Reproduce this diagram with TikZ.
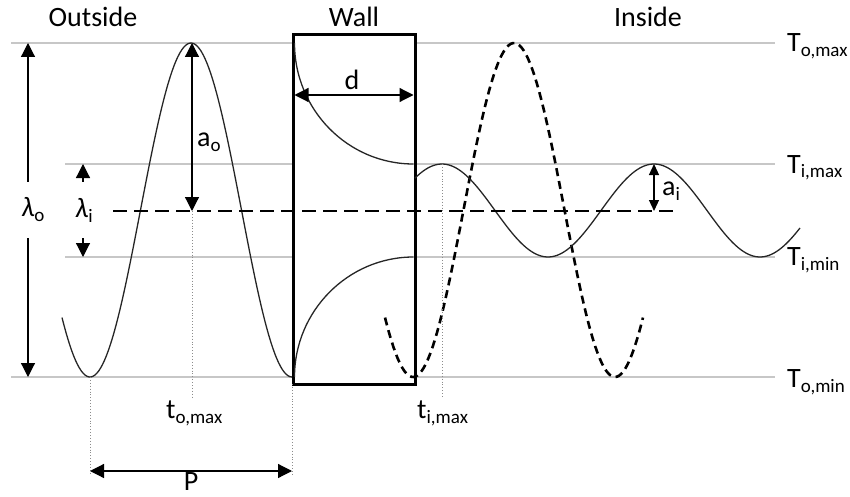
\documentclass[tikz,border=0pt]{standalone}
\usepackage{fontspec}
\setmainfont{Carlito}
\usetikzlibrary{arrows.meta}

% lowered small index, as in T_{o,max}
\newcommand{\lowidx}[1]{\raisebox{-5pt}{\fontsize{19}{20}\selectfont #1}}

\tikzset{
  level/.style={draw=black!22, line width=1.5pt},
  guide/.style={draw=black!45, dotted, line width=0.9pt},
  wave/.style={draw=black!85, line width=1.3pt},
  dim/.style={line width=1.2pt, {Triangle[length=14pt,width=14pt]}-{Triangle[length=14pt,width=14pt]}},
  dimsmall/.style={line width=1.2pt, {Triangle[length=11pt,width=10pt]}-{Triangle[length=11pt,width=10pt]}},
  tip/.style={line width=1.2pt, -{Triangle[length=14pt,width=14pt]}},
  lbl/.style={inner sep=0pt}
}

\begin{document}
\begin{tikzpicture}[x=1pt, y=-1pt, font=\fontsize{28}{30}\selectfont]
	\useasboundingbox (0,0) rectangle (850,497);
	% temperature levels
	\coordinate (oLmax) at (11,43);  \coordinate (oRmax) at (775,43);
	\coordinate (iLmax) at (65,164); \coordinate (iRmax) at (775,164);
	\coordinate (iLmin) at (65,257); \coordinate (iRmin) at (775,257);
	\coordinate (oLmin) at (11,377); \coordinate (oRmin) at (775,377);
	\draw [level] (oLmax) -- (oRmax);
	\draw [level] (iLmax) -- (iRmax);
	\draw [level] (iLmin) -- (iRmin);
	\draw [level] (oLmin) -- (oRmin);
	\begin{scope}[every node/.style={lbl, anchor=base west}]
	\node (tomax) at (787,52) {T\lowidx{o,max}};
	\node (timax) at (787,173) {T\lowidx{i,max}};
	\node (timin) at (787,265) {T\lowidx{i,min}};
	\node (tomin) at (787,387) {T\lowidx{o,min}};
	\end{scope}
	% headings
	\node [lbl, anchor=base] (outside) at (93,27) {Outside};
	\node [lbl, anchor=base] (walltitle) at (354,27) {Wall};
	\node [lbl, anchor=base] (inside) at (648,27) {Inside};
	% wall
	\draw [line width=3pt, fill=white] (293,35) rectangle (415,384);
	\draw [wave] (294.5,43) .. controls (294.5,110) and (348,164) .. (413.5,164);
	\draw [wave] (294.5,377) .. controls (294.5,311) and (348,257) .. (413.5,257);
	% waves
	\draw [wave] plot [domain=62:292, samples=120] (\x,{210-167*cos((\x-191)*1.78218)});
	\draw [line width=2.6pt, dash pattern=on 8pt off 5pt] plot [domain=385:643, samples=120] (\x,{210-167*cos((\x-514)*1.78218)});
	\draw [wave] plot [domain=415:800, samples=150] (\x,{210.5-46.5*cos((\x-442)*1.69811)});
	\draw [line width=2.4pt, dash pattern=on 14pt off 7pt] (113,211) -- (678,211);
	% guides
	\draw [guide] (192,211) -- (192,398);
	\draw [guide] (442,164) -- (442,398);
	\draw [guide] (90,377) -- (90,475);
	\draw [guide] (292,384) -- (292,475);
	% amplitudes
	\node [lbl, minimum height=56pt] (lamo) at (33,210) {\textit{λ}\lowidx{o}};
	\node [lbl, minimum height=56pt] (lami) at (84,210) {\textit{λ}\lowidx{i}};
	\coordinate (lotop) at (28,43);  \coordinate (lobot) at (28,377);
	\coordinate (litop) at (83,164); \coordinate (libot) at (83,257);
	\draw [tip] (lotop |- lamo.north) -- (lotop);
	\draw [tip] (lotop |- lamo.south) -- (lobot);
	\draw [tip] (litop |- lami.north) -- (litop);
	\draw [tip] (litop |- lami.south) -- (libot);
	\coordinate (aotop) at (192,43); \coordinate (aobot) at (192,211);
	\draw [dim] (aotop) -- (aobot);
	\node [lbl, anchor=base west] (ao) at (197,147) {a\lowidx{o}};
	\coordinate (aitop) at (654,164); \coordinate (aibot) at (654,211);
	\draw [dimsmall] (aitop) -- (aibot);
	\node [lbl, anchor=base west] (ai) at (662,195) {a\lowidx{i}};
	\coordinate (dL) at (294.5,95); \coordinate (dR) at (413.5,95);
	\draw [dim] (dL) -- (dR);
	\node [lbl, anchor=base] (dlab) at (352,90) {d};
	\coordinate (pL) at (90,471); \coordinate (pR) at (292,471);
	\draw [dim] (pL) -- (pR);
	\node [lbl, anchor=base] (plab) at (191,490) {P};
	% times
	\node [lbl, anchor=base west] (to) at (166,418) {t\lowidx{o,max}};
	\node [lbl, anchor=base west] (ti) at (417,418) {t\lowidx{i,max}};
\end{tikzpicture}
\end{document}
